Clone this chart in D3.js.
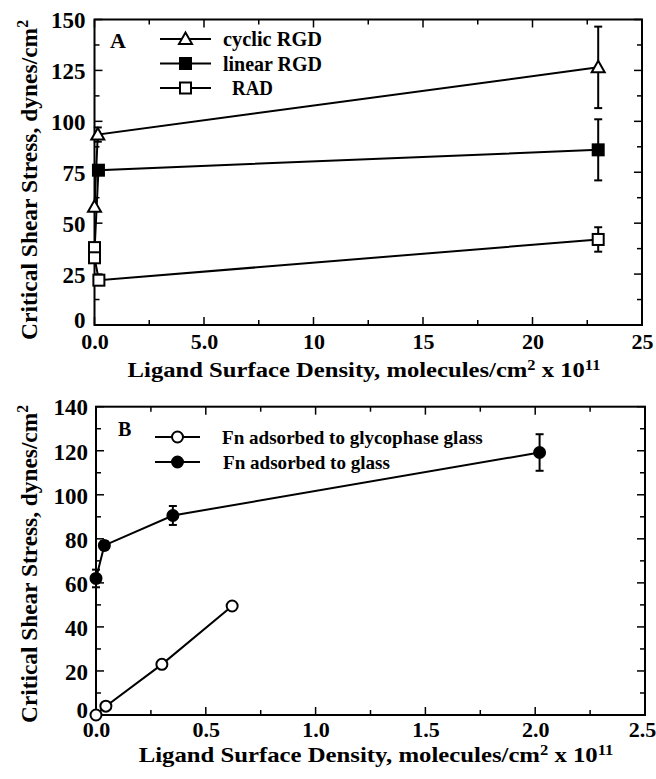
<!DOCTYPE html>
<html><head><meta charset="utf-8">
<script src="https://cdn.jsdelivr.net/npm/d3@7"></script>
<style>
body{margin:0;background:#fff;}
svg text{font-family:'Liberation Serif','Times New Roman',serif;font-weight:bold;fill:#000;}
</style></head>
<body><svg id="c" width="656" height="779"></svg>
<script>
// ---------- Panel A data ----------
const aXTicks = [0, 5, 10, 15, 20, 25];
const aXTickLabels = ["0.0", "5.0", "10", "15", "20", "25"];
const aYTicks = [0, 25, 50, 75, 100, 125, 150];
const cyclicX = [0.0, 0.15, 23.0];
const cyclicY = [58, 93.5, 126.5];
const cyclicErr = [0, 3.5, 20];
const linearX = [0.0, 0.18, 23.0];
const linearY = [36, 76, 86];
const linearErr = [0, 2, 15];
const radX = [0.0, 0.0, 0.2, 23.0];
const radY = [38, 33, 22, 42];
const radErr = [0, 0, 0, 6];
const aLegend = ["cyclic RGD", "linear RGD", "RAD"];

// ---------- Panel B data ----------
const bXTicks = [0, 0.5, 1.0, 1.5, 2.0, 2.5];
const bXTickLabels = ["0.0", "0.5", "1.0", "1.5", "2.0", "2.5"];
const bYTicks = [0, 20, 40, 60, 80, 100, 120, 140];
const glycoX = [0.0, 0.045, 0.30, 0.62];
const glycoY = [0, 4, 23, 49.5];
const glycoErr = [0, 0, 0, 0];
const glassX = [0.0, 0.038, 0.35, 2.02];
const glassY = [62, 77, 90.6, 119.2];
const glassErr = [4, 2, 4.3, 8.3];
const bLegend = ["Fn adsorbed to glycophase glass", "Fn adsorbed to glass"];

const yTitle = "Critical Shear Stress, dynes/cm";
const xTitle = "Ligand Surface Density, molecules/cm";

const FONT = "Liberation Serif, Times New Roman, serif";
const svg = d3.select("#c");

// horizontal scale factor to bring a group's text to a target width
function fit(gSel, target) {
  const w = gSel.node().getBBox().width;
  return w > 0 ? target / w : 1;
}

function panel(cfg) {
  const g = svg.append("g").attr("font-family", FONT);
  const x = d3.scaleLinear().domain(cfg.xDom).range([cfg.left, cfg.right]);
  const y = d3.scaleLinear().domain(cfg.yDom).range([cfg.bottom, cfg.top]);
  g.append("rect").attr("x", cfg.left).attr("y", cfg.top)
    .attr("width", cfg.right - cfg.left).attr("height", cfg.bottom - cfg.top)
    .attr("fill", "none").attr("stroke", "#000").attr("stroke-width", 2);
  const xMinor = d3.range(cfg.xDom[0], cfg.xDom[1] + 1e-9, cfg.xMinorStep);
  const yMinor = d3.range(cfg.yDom[0], cfg.yDom[1] + 1e-9, cfg.yMinorStep);
  const isMajor = (v, arr) => arr.some(t => Math.abs(t - v) < 1e-6);
  xMinor.forEach(v => {
    const len = isMajor(v, cfg.xTicks) ? 8 : 5;
    g.append("line").attr("x1", x(v)).attr("x2", x(v)).attr("y1", cfg.bottom).attr("y2", cfg.bottom - len).attr("stroke", "#000").attr("stroke-width", 1.5);
    g.append("line").attr("x1", x(v)).attr("x2", x(v)).attr("y1", cfg.top).attr("y2", cfg.top + len).attr("stroke", "#000").attr("stroke-width", 1.5);
  });
  yMinor.forEach(v => {
    const len = isMajor(v, cfg.yTicks) ? 8 : 5;
    g.append("line").attr("y1", y(v)).attr("y2", y(v)).attr("x1", cfg.left).attr("x2", cfg.left + len).attr("stroke", "#000").attr("stroke-width", 1.5);
    g.append("line").attr("y1", y(v)).attr("y2", y(v)).attr("x1", cfg.right).attr("x2", cfg.right - len).attr("stroke", "#000").attr("stroke-width", 1.5);
  });
  const xa = g.append("g").attr("transform", `translate(0,${cfg.bottom})`)
    .call(d3.axisBottom(x).tickValues(cfg.xTicks).tickFormat((d, i) => cfg.xLabels[i]).tickSize(0));
  xa.select(".domain").remove();
  xa.attr("font-family", FONT);
  xa.selectAll("text").attr("font-size", 22).attr("y", cfg.xTickBase).attr("dy", 0)
    .attr("dx", (d, i) => i === cfg.xTicks.length - 1 ? cfg.lastDx : 0);
  const ya = g.append("g").attr("transform", `translate(${cfg.left},0)`)
    .call(d3.axisLeft(y).tickValues(cfg.yTicks).tickSize(0).tickPadding(cfg.yPad));
  ya.select(".domain").remove();
  ya.attr("font-family", FONT);
  ya.selectAll("text").attr("font-size", 23).attr("dy", (d) => d === 0 ? "0.12em" : "0.36em");
  g.selectAll(".tick text").attr("fill", "#000").attr("font-family", FONT).attr("font-weight", "bold");

  const xg = g.append("g");
  const xt = xg.append("text").attr("text-anchor", "middle").attr("font-size", 21);
  xt.append("tspan").text(xTitle);
  xt.append("tspan").text("2").attr("font-size", 14).attr("dy", -7);
  xt.append("tspan").text(" x 10").attr("dy", 7);
  xt.append("tspan").text("11").attr("font-size", 14).attr("dy", -7);
  const sx = fit(xg, cfg.xTitleW);
  xg.attr("transform", `translate(${cfg.xTitleX},${cfg.xTitleY}) scale(${sx},1)`);

  const yg = g.append("g");
  const yt = yg.append("text").attr("text-anchor", "middle").attr("font-size", 24);
  yt.append("tspan").text(yTitle);
  yt.append("tspan").text("2").attr("font-size", 16).attr("dy", -9);
  const sy = fit(yg, cfg.yTitleW);
  yg.attr("transform", `translate(${cfg.yTitleX},${cfg.yTitleY}) rotate(-90) scale(${sy},1)`);

  g.append("text").attr("x", cfg.letterX).attr("y", cfg.letterY).attr("font-size", cfg.letterSize).text(cfg.letter);

  cfg.series.forEach(s => {
    const pts = s.xs.map((v, i) => ({x: v, y: s.ys[i], e: s.err[i]}));
    g.append("path").datum(pts)
      .attr("d", d3.line().x(d => x(d.x)).y(d => y(d.y)))
      .attr("fill", "none").attr("stroke", "#000").attr("stroke-width", 2);
    pts.filter(d => d.e > 0).forEach(d => {
      const cx = x(d.x);
      g.append("line").attr("x1", cx).attr("x2", cx).attr("y1", y(d.y - d.e)).attr("y2", y(d.y + d.e)).attr("stroke", "#000").attr("stroke-width", 2);
      [d.y - d.e, d.y + d.e].forEach(v => g.append("line").attr("x1", cx - 4).attr("x2", cx + 4).attr("y1", y(v)).attr("y2", y(v)).attr("stroke", "#000").attr("stroke-width", 2));
    });
    pts.forEach(d => marker(g, s.shape, x(d.x), y(d.y), s.filled));
  });

  cfg.legend.forEach((name, i) => {
    const s = cfg.series[cfg.legendOrder[i]];
    const ly = cfg.legY + i * cfg.legStep;
    g.append("line").attr("x1", cfg.legX1).attr("x2", cfg.legX2).attr("y1", ly).attr("y2", ly).attr("stroke", "#000").attr("stroke-width", 2);
    marker(g, s.shape, (cfg.legX1 + cfg.legX2) / 2, ly, s.filled);
    const lg = g.append("g");
    lg.append("text").attr("dy", "0.35em").attr("font-size", cfg.legFont).text(name);
    const sl = fit(lg, cfg.legW[i]);
    lg.attr("transform", `translate(${cfg.legTextX[i]},${ly}) scale(${sl},1)`);
  });
}

function marker(g, shape, cx, cy, filled) {
  const fill = filled ? "#000" : "#fff";
  if (shape === "tri") {
    const r = 6.5;
    g.append("path").attr("d", `M${cx},${cy - r}L${cx + r},${cy + r * 0.75}L${cx - r},${cy + r * 0.75}Z`)
      .attr("fill", fill).attr("stroke", "#000").attr("stroke-width", 2);
  } else if (shape === "sq") {
    g.append("rect").attr("x", cx - 5.5).attr("y", cy - 5.5).attr("width", 11).attr("height", 11)
      .attr("fill", fill).attr("stroke", "#000").attr("stroke-width", 2);
  } else {
    g.append("circle").attr("cx", cx).attr("cy", cy).attr("r", 5.5)
      .attr("fill", fill).attr("stroke", "#000").attr("stroke-width", 2);
  }
}

panel({
  left: 94.5, right: 642, top: 19.5, bottom: 325,
  xDom: [0, 25], yDom: [0, 150], xMinorStep: 2.5, yMinorStep: 12.5,
  xTicks: aXTicks, xLabels: aXTickLabels, yTicks: aYTicks,
  xTickBase: 24, lastDx: 0, yPad: 9,
  xTitleX: 364, xTitleY: 377, xTitleW: 473,
  yTitleX: 37, yTitleY: 180, yTitleW: 320,
  letter: "A", letterX: 110, letterY: 48, letterSize: 22,
  series: [
    {xs: linearX, ys: linearY, err: linearErr, shape: "sq", filled: true},
    {xs: cyclicX, ys: cyclicY, err: cyclicErr, shape: "tri", filled: false},
    {xs: radX, ys: radY, err: radErr, shape: "sq", filled: false}
  ],
  legend: aLegend, legendOrder: [1, 0, 2],
  legY: 39, legStep: 24.5, legX1: 160, legX2: 211, legTextX: [223, 223, 232], legW: [99, 99, 41], legFont: 20
});

panel({
  left: 96, right: 645, top: 406.7, bottom: 715,
  xDom: [0, 2.5], yDom: [0, 140], xMinorStep: 0.25, yMinorStep: 10,
  xTicks: bXTicks, xLabels: bXTickLabels, yTicks: bYTicks,
  xTickBase: 22, lastDx: -3, yPad: 8,
  xTitleX: 376, xTitleY: 762, xTitleW: 475,
  yTitleX: 37, yTitleY: 564, yTitleW: 318,
  letter: "B", letterX: 118, letterY: 436, letterSize: 20,
  series: [
    {xs: glycoX, ys: glycoY, err: glycoErr, shape: "circ", filled: false},
    {xs: glassX, ys: glassY, err: glassErr, shape: "circ", filled: true}
  ],
  legend: bLegend, legendOrder: [0, 1],
  legY: 437, legStep: 25, legX1: 155, legX2: 200, legTextX: [222, 223], legW: [261, 167], legFont: 19
});
</script></body></html>
